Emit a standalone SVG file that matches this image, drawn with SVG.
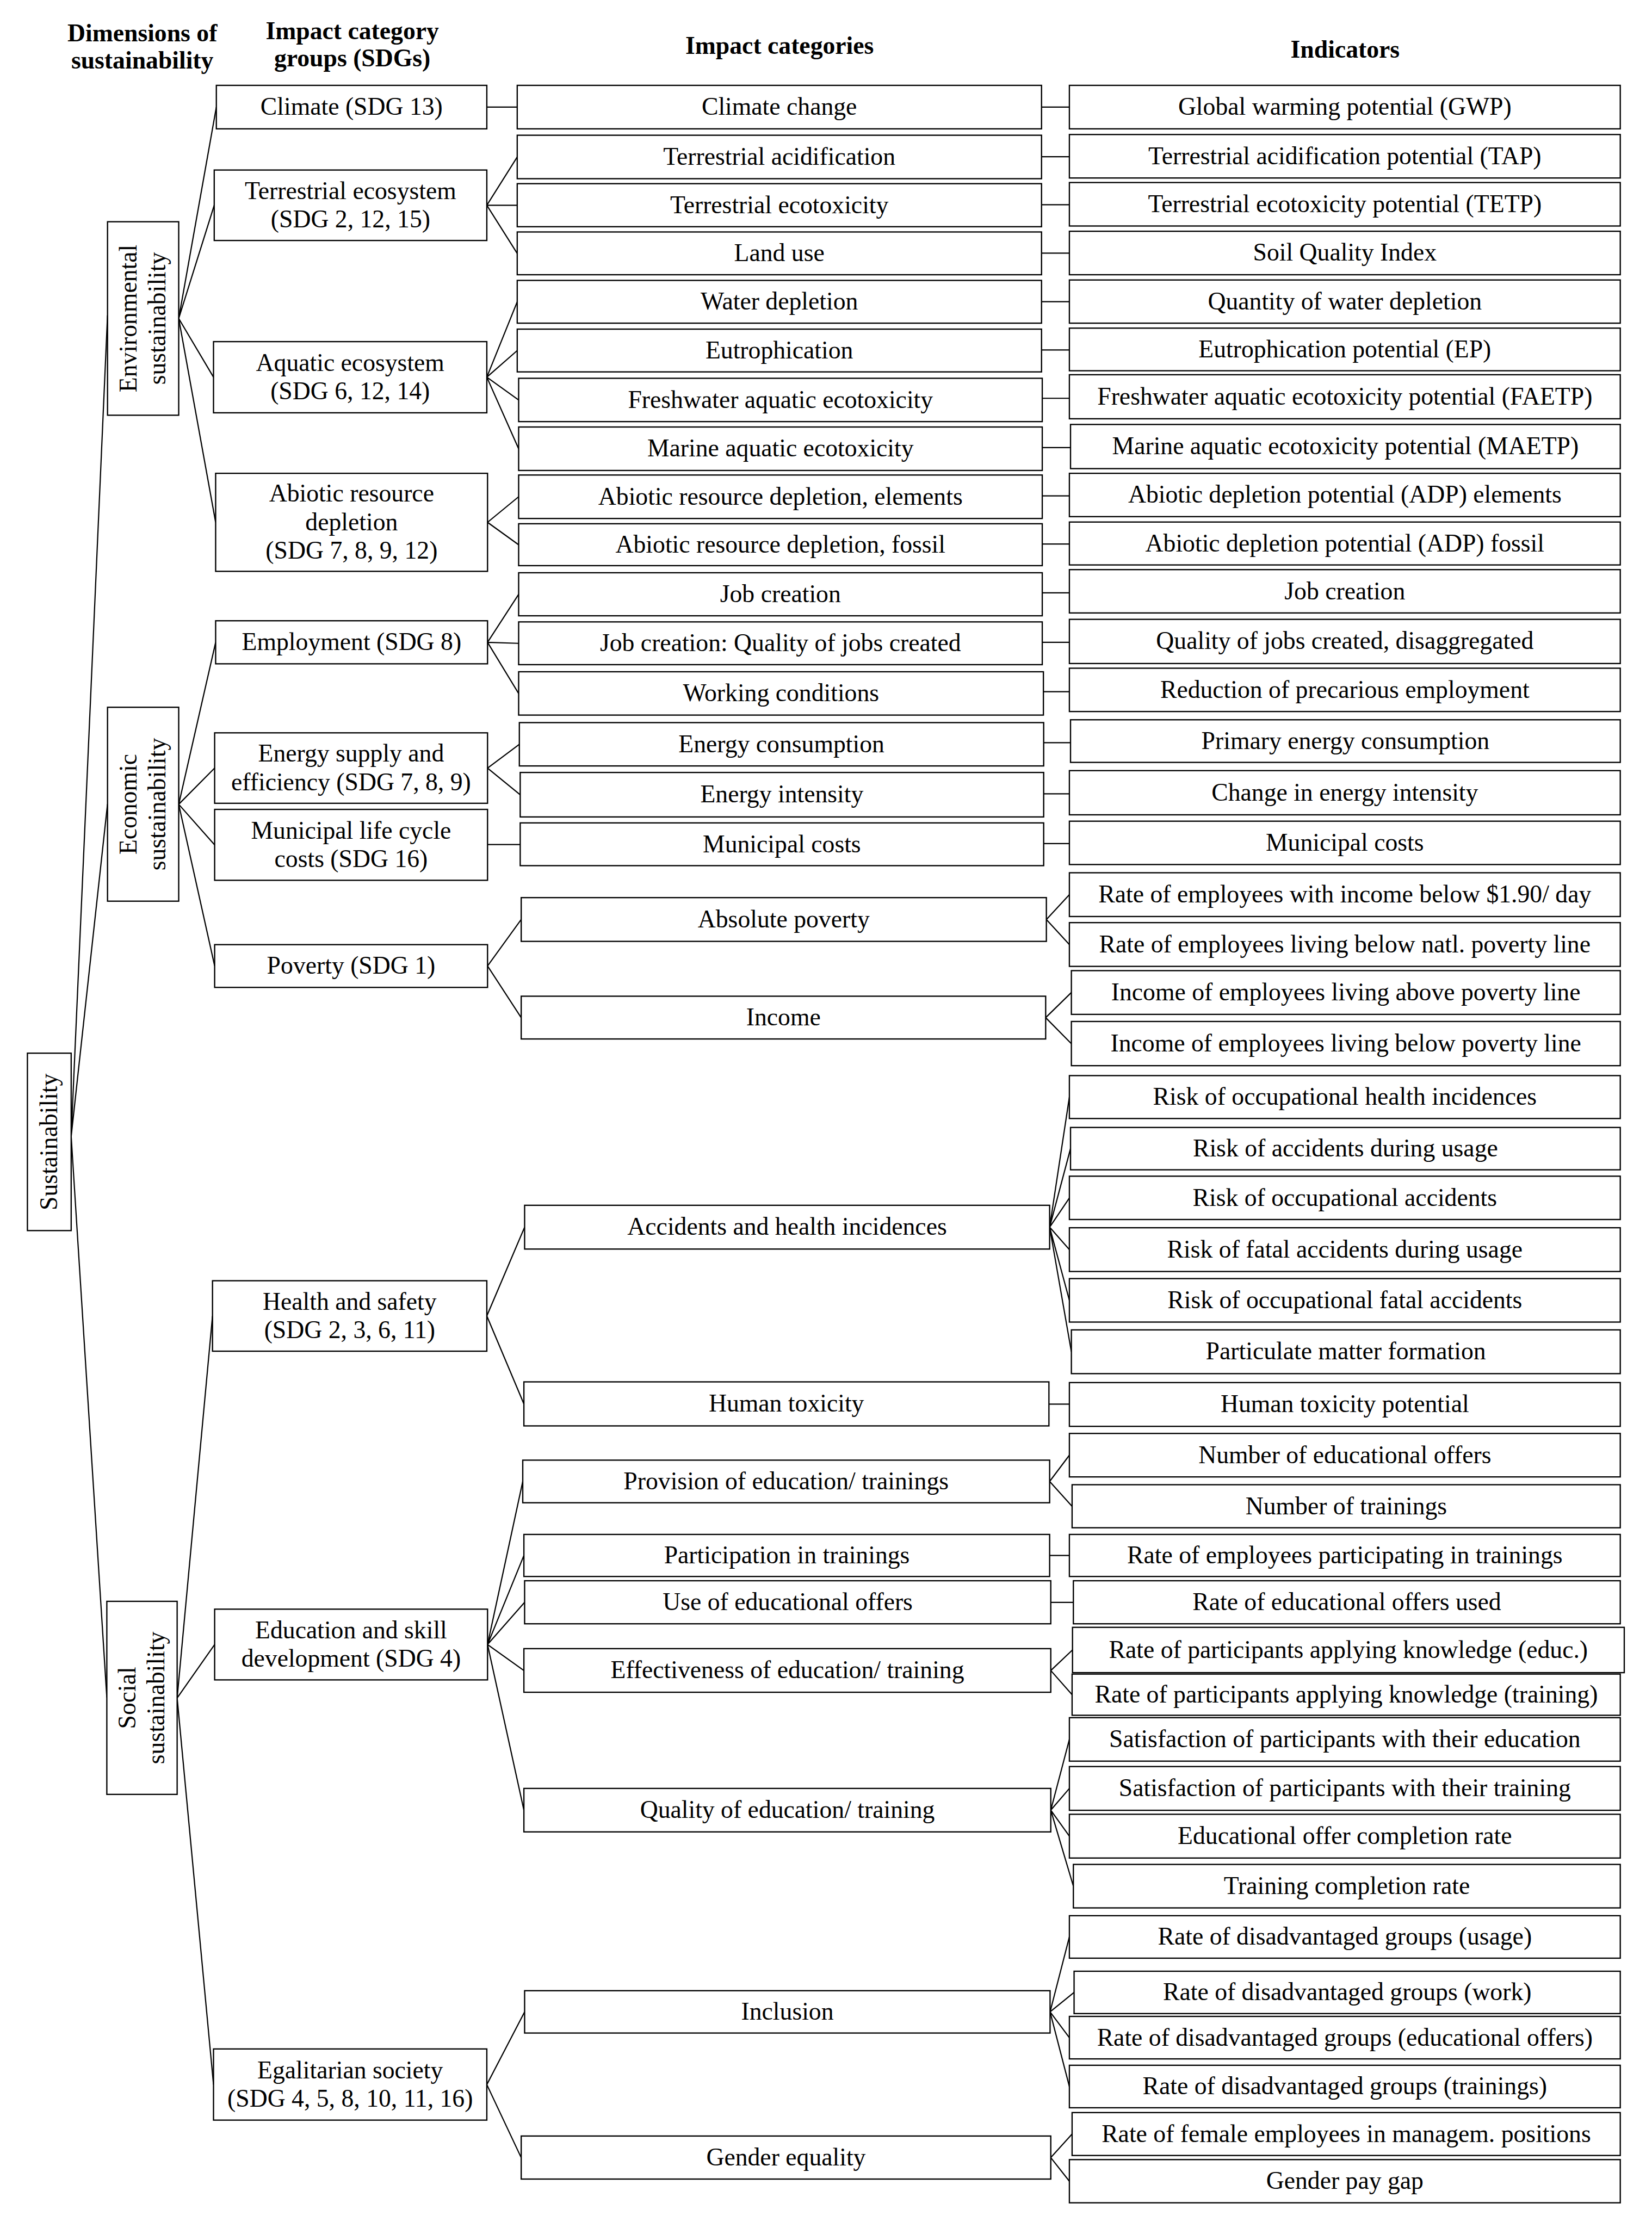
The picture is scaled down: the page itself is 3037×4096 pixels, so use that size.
<svg xmlns="http://www.w3.org/2000/svg" width="3037" height="4096" viewBox="0 0 3037 4096">
<style>
.b{fill:#fff;stroke:#000;stroke-width:0.9}
.t{font-family:"Liberation Serif","Times New Roman",serif;font-size:17.5px;text-anchor:middle;fill:#000}
.h{font-weight:bold}
#connectors path{stroke:#000;stroke-width:0.85;fill:none}
</style>
<rect width="3037" height="4096" fill="#fff"/>
<g transform="scale(2.6115)">
<g id="headers">
<text class="t h" x="100.2" y="29">Dimensions of</text>
<text class="t h" x="100.2" y="48.2">sustainability</text>
<text class="t h" x="248" y="27.4">Impact category</text>
<text class="t h" x="248" y="46.6">groups (SDGs)</text>
<text class="t h" x="548.8" y="38">Impact categories</text>
<text class="t h" x="946.9" y="40.6">Indicators</text>
</g>
<g id="connectors">
<path d="M50.1,800 L75.7,222 M50.1,800 L75.7,566 M50.1,800 L75.2,1195"/>
<path d="M125.8,224.2 L152.3,75.4 M125.8,224.2 L150.8,144.5 M125.8,224.2 L150.3,265.5 M125.8,224.2 L151.8,367.7"/>
<path d="M125.8,566.2 L151.8,452.2 M125.8,566.2 L151.1,540.7 M125.8,566.2 L151.1,594.8 M125.8,566.2 L151.1,680"/>
<path d="M124.7,1195.3 L149.6,926.4 M124.7,1195.3 L151.1,1157.7 M124.7,1195.3 L150.3,1467.5"/>
<path d="M342.7,75.4 L364.1,75.4"/>
<path d="M342.7,144.5 L364.1,110.5 M342.7,144.5 L364.1,144.5 M342.7,144.5 L364.1,178.4"/>
<path d="M342.7,265.5 L364.1,212.5 M342.7,265.5 L364.1,246.8 M342.7,265.5 L365.1,281.6 M342.7,265.5 L365.1,315.9"/>
<path d="M343.2,367.7 L365.1,349.7 M343.2,367.7 L365.1,383.5"/>
<path d="M343.2,452.2 L365.1,418.4 M343.2,452.2 L365.1,452.9 M343.2,452.2 L365.1,488.2"/>
<path d="M343.2,540.7 L365.6,524 M343.2,540.7 L366.2,559.5"/>
<path d="M343.2,594.5 L366.2,594.5"/>
<path d="M343.2,680 L366.9,647.3 M343.2,680 L366.9,716.4"/>
<path d="M342.7,926.4 L369.3,863.9 M342.7,926.4 L368.8,988.3"/>
<path d="M343.2,1157.7 L368,1042.9 M343.2,1157.7 L368.8,1095 M343.2,1157.7 L369.3,1128 M343.2,1157.7 L368.8,1176 M343.2,1157.7 L368.8,1274.3"/>
<path d="M342.7,1467.5 L369.3,1416.3 M342.7,1467.5 L366.9,1518.9"/>
<path d="M733.2,75.4 L752.8,75.4 M733.2,110.3 L752.8,110.3 M733.2,144.1 L752.8,144.1 M733.2,178.2 L752.8,178.2 M733.2,212.4 L752.8,212.4 M733.2,246.4 L752.8,246.4 M733.7,280.4 L752.8,280.4 M733.7,315.1 L753.6,315.1 M733.7,349.1 L752.8,349.1 M733.7,383 L752.8,383"/>
<path d="M733.7,417.3 L752.8,417.3 M733.7,452.2 L752.8,452.2 M734.5,486.9 L752.8,486.9 M734.7,522.8 L753.6,522.8 M734.7,558.8 L752.8,558.8 M734.7,593.9 L752.8,593.9"/>
<path d="M736.6,647.3 L752.8,629.8 M736.6,647.3 L752.8,664.9 M736.1,716.4 L754.2,698.7 M736.1,716.4 L754.2,734.7"/>
<path d="M738.9,863.9 L752.8,772.3 M738.9,863.9 L753.6,808.6 M738.9,863.9 L752.8,843.3 M738.9,863.9 L752.8,879.7 M738.9,863.9 L752.8,915.4 M738.9,863.9 L754.2,951.6"/>
<path d="M738.4,988.5 L752.8,988.5"/>
<path d="M738.9,1042.9 L752.8,1024.4 M738.9,1042.9 L754.7,1060.4"/>
<path d="M738.9,1095 L752.8,1095 M739.7,1128 L755.6,1128"/>
<path d="M739.7,1176 L755,1161.5 M739.7,1176 L754.7,1193"/>
<path d="M739.7,1274.3 L752.8,1224.5 M739.7,1274.3 L752.8,1259 M739.7,1274.3 L752.8,1292.6 M739.7,1274.3 L755.6,1327.8"/>
<path d="M739.2,1416.3 L752.8,1363.5 M739.2,1416.3 L756.1,1402.6 M739.2,1416.3 L752.8,1434.5 M739.2,1416.3 L752.8,1468.9"/>
<path d="M739.7,1518.9 L754.7,1502.3 M739.7,1518.9 L752.8,1535.5"/>
</g>
<g id="n_sustainability"><rect class="b" x="19.3" y="741.4" width="30.8" height="124.9"/><text class="t" transform="translate(34.7,803.85) rotate(-90)" x="0" y="5.5">Sustainability</text></g>
<g id="n_environmental"><rect class="b" x="75.7" y="156.1" width="50.1" height="136.2"/><text class="t" transform="translate(100.75,224.2) rotate(-90)"><tspan x="0" y="-4.5">Environmental</tspan><tspan x="0" y="15.5">sustainability</tspan></text></g>
<g id="n_economic"><rect class="b" x="75.7" y="497.9" width="50.1" height="136.5"/><text class="t" transform="translate(100.75,566.15) rotate(-90)"><tspan x="0" y="-4.5">Economic</tspan><tspan x="0" y="15.5">sustainability</tspan></text></g>
<g id="n_social"><rect class="b" x="75.2" y="1127.3" width="49.5" height="135.9"/><text class="t" transform="translate(99.95,1195.25) rotate(-90)"><tspan x="0" y="-4.5">Social</tspan><tspan x="0" y="15.5">sustainability</tspan></text></g>
<g id="g_climate"><rect class="b" x="152.3" y="60.1" width="190.4" height="30.6"/><text class="t" x="247.5" y="80.9">Climate (SDG 13)</text></g>
<g id="g_terrestrial"><rect class="b" x="150.8" y="119.7" width="191.9" height="49.6"/><text class="t"><tspan x="246.75" y="140">Terrestrial ecosystem</tspan><tspan x="246.75" y="160">(SDG 2, 12, 15)</tspan></text></g>
<g id="g_aquatic"><rect class="b" x="150.3" y="240.5" width="192.4" height="50.1"/><text class="t"><tspan x="246.5" y="261">Aquatic ecosystem</tspan><tspan x="246.5" y="281">(SDG 6, 12, 14)</tspan></text></g>
<g id="g_abiotic"><rect class="b" x="151.8" y="333.2" width="191.4" height="69"/><text class="t"><tspan x="247.5" y="353.2">Abiotic resource</tspan><tspan x="247.5" y="373.2">depletion</tspan><tspan x="247.5" y="393.2">(SDG 7, 8, 9, 12)</tspan></text></g>
<g id="g_employment"><rect class="b" x="151.8" y="437" width="191.4" height="30.3"/><text class="t" x="247.5" y="457.6">Employment (SDG 8)</text></g>
<g id="g_energy"><rect class="b" x="151.1" y="515.9" width="192.1" height="49.6"/><text class="t"><tspan x="247.15" y="536.2">Energy supply and</tspan><tspan x="247.15" y="556.2">efficiency (SDG 7, 8, 9)</tspan></text></g>
<g id="g_municipal"><rect class="b" x="151.1" y="569.8" width="192.1" height="49.9"/><text class="t"><tspan x="247.15" y="590.3">Municipal life cycle</tspan><tspan x="247.15" y="610.3">costs (SDG 16)</tspan></text></g>
<g id="g_poverty"><rect class="b" x="151.1" y="665" width="192.1" height="30.1"/><text class="t" x="247.15" y="685.5">Poverty (SDG 1)</text></g>
<g id="g_health"><rect class="b" x="149.6" y="901.6" width="193.1" height="49.6"/><text class="t"><tspan x="246.15" y="921.9">Health and safety</tspan><tspan x="246.15" y="941.9">(SDG 2, 3, 6, 11)</tspan></text></g>
<g id="g_education"><rect class="b" x="151.1" y="1132.8" width="192.1" height="49.8"/><text class="t"><tspan x="247.15" y="1153.2">Education and skill</tspan><tspan x="247.15" y="1173.2">development (SDG 4)</tspan></text></g>
<g id="g_egalitarian"><rect class="b" x="150.3" y="1442.4" width="192.4" height="50.1"/><text class="t"><tspan x="246.5" y="1463">Egalitarian society</tspan><tspan x="246.5" y="1483">(SDG 4, 5, 8, 10, 11, 16)</tspan></text></g>
<g id="c_climate_change"><rect class="b" x="364.1" y="60.1" width="369.1" height="30.6"/><text class="t" x="548.6" y="80.9">Climate change</text></g>
<g id="c_terr_acid"><rect class="b" x="364.1" y="95.2" width="369.1" height="30.6"/><text class="t" x="548.6" y="116">Terrestrial acidification</text></g>
<g id="c_terr_ecotox"><rect class="b" x="364.1" y="129.3" width="369.1" height="30.3"/><text class="t" x="548.6" y="150">Terrestrial ecotoxicity</text></g>
<g id="c_land_use"><rect class="b" x="364.1" y="163.3" width="369.1" height="30.1"/><text class="t" x="548.6" y="183.9">Land use</text></g>
<g id="c_water"><rect class="b" x="364.1" y="197.4" width="369.1" height="30.1"/><text class="t" x="548.6" y="218">Water depletion</text></g>
<g id="c_eutro"><rect class="b" x="364.1" y="231.7" width="369.1" height="30.1"/><text class="t" x="548.6" y="252.3">Eutrophication</text></g>
<g id="c_fresh"><rect class="b" x="365.1" y="266.3" width="368.6" height="30.5"/><text class="t" x="549.4" y="287">Freshwater aquatic ecotoxicity</text></g>
<g id="c_marine"><rect class="b" x="365.1" y="300.6" width="368.6" height="30.6"/><text class="t" x="549.4" y="321.4">Marine aquatic ecotoxicity</text></g>
<g id="c_ard_el"><rect class="b" x="365.1" y="334.4" width="368.6" height="30.6"/><text class="t" x="549.4" y="355.2">Abiotic resource depletion, elements</text></g>
<g id="c_ard_fos"><rect class="b" x="365.1" y="368.7" width="368.6" height="29.5"/><text class="t" x="549.4" y="389">Abiotic resource depletion, fossil</text></g>
<g id="c_job"><rect class="b" x="365.1" y="403.2" width="368.6" height="30.3"/><text class="t" x="549.4" y="423.9">Job creation</text></g>
<g id="c_jobq"><rect class="b" x="365.1" y="437.8" width="368.6" height="30.1"/><text class="t" x="549.4" y="458.4">Job creation: Quality of jobs created</text></g>
<g id="c_working"><rect class="b" x="365.1" y="472.9" width="369.4" height="30.5"/><text class="t" x="549.8" y="493.7">Working conditions</text></g>
<g id="c_energy_cons"><rect class="b" x="365.6" y="508.7" width="369.1" height="30.5"/><text class="t" x="550.1" y="529.5">Energy consumption</text></g>
<g id="c_energy_int"><rect class="b" x="366.2" y="543.8" width="368.5" height="31.3"/><text class="t" x="550.4" y="565">Energy intensity</text></g>
<g id="c_muni"><rect class="b" x="366.2" y="579.3" width="368.5" height="30.1"/><text class="t" x="550.4" y="599.9">Municipal costs</text></g>
<g id="c_abs_pov"><rect class="b" x="366.9" y="631.9" width="369.7" height="30.8"/><text class="t" x="551.7" y="652.8">Absolute poverty</text></g>
<g id="c_income"><rect class="b" x="366.9" y="701.3" width="369.2" height="30.1"/><text class="t" x="551.5" y="721.9">Income</text></g>
<g id="c_accidents"><rect class="b" x="369.3" y="848.5" width="369.6" height="30.8"/><text class="t" x="554.1" y="869.4">Accidents and health incidences</text></g>
<g id="c_human_tox"><rect class="b" x="368.8" y="972.8" width="369.6" height="31"/><text class="t" x="553.6" y="993.8">Human toxicity</text></g>
<g id="c_provision"><rect class="b" x="368" y="1027.9" width="370.9" height="30"/><text class="t" x="553.4" y="1048.4">Provision of education/ trainings</text></g>
<g id="c_participation"><rect class="b" x="368.8" y="1080.2" width="370.1" height="29.6"/><text class="t" x="553.9" y="1100.5">Participation in trainings</text></g>
<g id="c_use"><rect class="b" x="369.3" y="1112.8" width="370.4" height="30.3"/><text class="t" x="554.5" y="1133.5">Use of educational offers</text></g>
<g id="c_effectiveness"><rect class="b" x="368.8" y="1160.6" width="370.9" height="30.7"/><text class="t" x="554.3" y="1181.5">Effectiveness of education/ training</text></g>
<g id="c_quality"><rect class="b" x="368.8" y="1259" width="370.9" height="30.6"/><text class="t" x="554.3" y="1279.8">Quality of education/ training</text></g>
<g id="c_inclusion"><rect class="b" x="369.3" y="1401.4" width="369.9" height="29.8"/><text class="t" x="554.3" y="1421.8">Inclusion</text></g>
<g id="c_gender"><rect class="b" x="366.9" y="1503.7" width="372.8" height="30.3"/><text class="t" x="553.3" y="1524.4">Gender equality</text></g>
<g id="i01"><rect class="b" x="752.8" y="60.1" width="387.8" height="30.6"/><text class="t" x="946.7" y="80.9">Global warming potential (GWP)</text></g>
<g id="i02"><rect class="b" x="752.8" y="94.7" width="387.8" height="30.6"/><text class="t" x="946.7" y="115.5">Terrestrial acidification potential (TAP)</text></g>
<g id="i03"><rect class="b" x="752.8" y="128.5" width="387.8" height="30.6"/><text class="t" x="946.7" y="149.3">Terrestrial ecotoxicity potential (TETP)</text></g>
<g id="i04"><rect class="b" x="752.8" y="162.8" width="387.8" height="30.6"/><text class="t" x="946.7" y="183.6">Soil Quality Index</text></g>
<g id="i05"><rect class="b" x="752.8" y="197.1" width="387.8" height="30.4"/><text class="t" x="946.7" y="217.8">Quantity of water depletion</text></g>
<g id="i06"><rect class="b" x="752.8" y="231" width="387.8" height="30"/><text class="t" x="946.7" y="251.5">Eutrophication potential (EP)</text></g>
<g id="i07"><rect class="b" x="752.8" y="263.8" width="387.8" height="31"/><text class="t" x="946.7" y="284.8">Freshwater aquatic ecotoxicity potential (FAETP)</text></g>
<g id="i08"><rect class="b" x="753.6" y="298.8" width="387" height="31.1"/><text class="t" x="947.1" y="319.9">Marine aquatic ecotoxicity potential (MAETP)</text></g>
<g id="i09"><rect class="b" x="752.8" y="333.2" width="387.8" height="30.5"/><text class="t" x="946.7" y="354">Abiotic depletion potential (ADP) elements</text></g>
<g id="i10"><rect class="b" x="752.8" y="367.5" width="387.8" height="30.2"/><text class="t" x="946.7" y="388.1">Abiotic depletion potential (ADP) fossil</text></g>
<g id="i11"><rect class="b" x="752.8" y="401" width="387.8" height="30.5"/><text class="t" x="946.7" y="421.8">Job creation</text></g>
<g id="i12"><rect class="b" x="752.8" y="436" width="387.8" height="31.1"/><text class="t" x="946.7" y="457">Quality of jobs created, disaggregated</text></g>
<g id="i13"><rect class="b" x="752.8" y="470.4" width="387.8" height="30.5"/><text class="t" x="946.7" y="491.2">Reduction of precarious employment</text></g>
<g id="i14"><rect class="b" x="753.6" y="506.7" width="387" height="30"/><text class="t" x="947.1" y="527.2">Primary energy consumption</text></g>
<g id="i15"><rect class="b" x="752.8" y="542.5" width="387.8" height="31.1"/><text class="t" x="946.7" y="563.5">Change in energy intensity</text></g>
<g id="i16"><rect class="b" x="752.8" y="578.1" width="387.8" height="30.5"/><text class="t" x="946.7" y="598.9">Municipal costs</text></g>
<g id="i17"><rect class="b" x="752.8" y="614.4" width="387.8" height="30.8"/><text class="t" x="946.7" y="635.3">Rate of employees with income below $1.90/ day</text></g>
<g id="i18"><rect class="b" x="752.8" y="649.5" width="387.8" height="30.8"/><text class="t" x="946.7" y="670.4">Rate of employees living below natl. poverty line</text></g>
<g id="i19"><rect class="b" x="754.2" y="683.3" width="386.4" height="30.8"/><text class="t" x="947.4" y="704.2">Income of employees living above poverty line</text></g>
<g id="i20"><rect class="b" x="754.2" y="719.1" width="386.4" height="31.1"/><text class="t" x="947.4" y="740.2">Income of employees living below poverty line</text></g>
<g id="i21"><rect class="b" x="752.8" y="757.2" width="387.8" height="30.2"/><text class="t" x="946.7" y="777.8">Risk of occupational health incidences</text></g>
<g id="i22"><rect class="b" x="753.6" y="793.7" width="387" height="29.8"/><text class="t" x="947.1" y="814.1">Risk of accidents during usage</text></g>
<g id="i23"><rect class="b" x="752.8" y="828" width="387.8" height="30.5"/><text class="t" x="946.7" y="848.8">Risk of occupational accidents</text></g>
<g id="i24"><rect class="b" x="752.8" y="864.3" width="387.8" height="30.8"/><text class="t" x="946.7" y="885.2">Risk of fatal accidents during usage</text></g>
<g id="i25"><rect class="b" x="752.8" y="900.1" width="387.8" height="30.6"/><text class="t" x="946.7" y="920.9">Risk of occupational fatal accidents</text></g>
<g id="i26"><rect class="b" x="754.2" y="936.2" width="386.4" height="30.8"/><text class="t" x="947.4" y="957.1">Particulate matter formation</text></g>
<g id="i27"><rect class="b" x="752.8" y="973.3" width="387.8" height="30.8"/><text class="t" x="946.7" y="994.2">Human toxicity potential</text></g>
<g id="i28"><rect class="b" x="752.8" y="1009.1" width="387.8" height="30.6"/><text class="t" x="946.7" y="1029.9">Number of educational offers</text></g>
<g id="i29"><rect class="b" x="754.7" y="1045.2" width="385.9" height="30.3"/><text class="t" x="947.7" y="1065.9">Number of trainings</text></g>
<g id="i30"><rect class="b" x="752.8" y="1080.2" width="387.8" height="29.6"/><text class="t" x="946.7" y="1100.5">Rate of employees participating in trainings</text></g>
<g id="i31"><rect class="b" x="755.6" y="1112.8" width="385" height="30.3"/><text class="t" x="948.1" y="1133.5">Rate of educational offers used</text></g>
<g id="i32"><rect class="b" x="755" y="1145.6" width="388.4" height="31.9"/><text class="t" x="949.2" y="1167">Rate of participants applying knowledge (educ.)</text></g>
<g id="i33"><rect class="b" x="754.7" y="1178.5" width="385.9" height="29"/><text class="t" x="947.7" y="1198.5">Rate of participants applying knowledge (training)</text></g>
<g id="i34"><rect class="b" x="752.8" y="1209.2" width="387.8" height="30.6"/><text class="t" x="946.7" y="1230">Satisfaction of participants with their education</text></g>
<g id="i35"><rect class="b" x="752.8" y="1243.6" width="387.8" height="30.8"/><text class="t" x="946.7" y="1264.5">Satisfaction of participants with their training</text></g>
<g id="i36"><rect class="b" x="752.8" y="1277.2" width="387.8" height="30.8"/><text class="t" x="946.7" y="1298.1">Educational offer completion rate</text></g>
<g id="i37"><rect class="b" x="755.6" y="1312.5" width="385" height="30.6"/><text class="t" x="948.1" y="1333.3">Training completion rate</text></g>
<g id="i38"><rect class="b" x="752.8" y="1348.6" width="387.8" height="29.9"/><text class="t" x="946.7" y="1369">Rate of disadvantaged groups (usage)</text></g>
<g id="i39"><rect class="b" x="756.1" y="1387.7" width="384.5" height="29.8"/><text class="t" x="948.4" y="1408.1">Rate of disadvantaged groups (work)</text></g>
<g id="i40"><rect class="b" x="752.8" y="1419.5" width="387.8" height="29.9"/><text class="t" x="946.7" y="1440">Rate of disadvantaged groups (educational offers)</text></g>
<g id="i41"><rect class="b" x="752.8" y="1453.9" width="387.8" height="29.9"/><text class="t" x="946.7" y="1474.4">Rate of disadvantaged groups (trainings)</text></g>
<g id="i42"><rect class="b" x="754.7" y="1487.2" width="385.9" height="30.2"/><text class="t" x="947.7" y="1507.8">Rate of female employees in managem. positions</text></g>
<g id="i43"><rect class="b" x="752.8" y="1520.3" width="387.8" height="30.4"/><text class="t" x="946.7" y="1541">Gender pay gap</text></g>
</g>
</svg>
